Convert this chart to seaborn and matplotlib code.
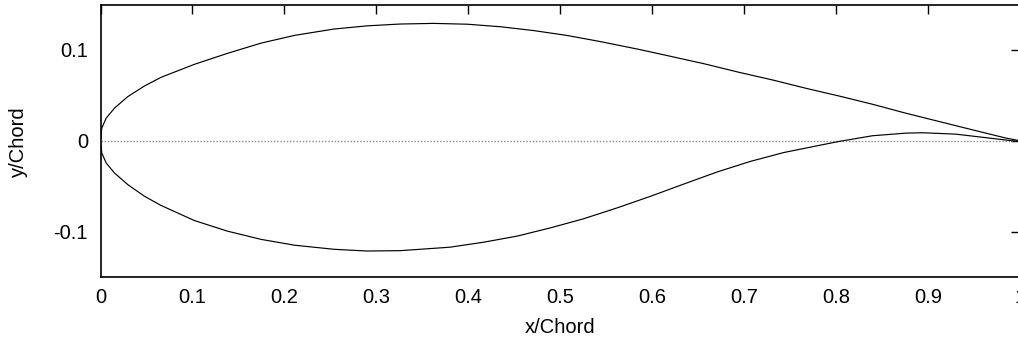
import matplotlib
matplotlib.use("Agg")
import matplotlib.pyplot as plt
import seaborn as sns
import pandas as pd

# Upper surface (x/Chord, y/Chord)
upper_x = [0.0, 0.0014, 0.0062, 0.0152, 0.0297, 0.0478, 0.066, 0.102, 0.138, 0.1747,
           0.211, 0.254, 0.29, 0.326, 0.362, 0.399, 0.435, 0.471, 0.507,
           0.5435, 0.586, 0.622, 0.658, 0.6946, 0.731, 0.767, 0.803, 0.8395, 0.876,
           0.912, 0.948, 0.9845, 1.0]
upper_y = [0.0, 0.0139, 0.0249, 0.0359, 0.0486, 0.0603, 0.0699, 0.0841, 0.0962, 0.1075,
           0.1160, 0.1230, 0.1265, 0.1285, 0.1292, 0.1283, 0.1255, 0.1213, 0.1160,
           0.1092, 0.1005, 0.0925, 0.0844, 0.0753, 0.0669, 0.0578, 0.0493, 0.0402, 0.0303,
           0.0212, 0.0121, 0.003, 0.0]

# Lower surface (x/Chord, y/Chord)
lower_x = [0.0, 0.0014, 0.0062, 0.0152, 0.0297, 0.0478, 0.066, 0.102, 0.138, 0.1747,
           0.211, 0.254, 0.29, 0.326, 0.38, 0.4167, 0.453, 0.489, 0.525,
           0.5616, 0.598, 0.634, 0.670, 0.7065, 0.743, 0.785, 0.803, 0.8395,
           0.876, 0.894, 0.930, 0.966, 1.0]
lower_y = [0.0, -0.0135, -0.0245, -0.0355, -0.0483, -0.0611, -0.0713, -0.0878, -0.0995, -0.1086,
           -0.1150, -0.1195, -0.1214, -0.1210, -0.1172, -0.1117, -0.105, -0.096, -0.086,
           -0.074, -0.0612, -0.0478, -0.0346, -0.0228, -0.0130, -0.0044, -0.0008, 0.0055,
           0.0084, 0.0088, 0.0073, 0.003, -0.001]

x_ticks = [0, 0.1, 0.2, 0.3, 0.4, 0.5, 0.6, 0.7, 0.8, 0.9, 1.0]
x_tick_labels = ["0", "0.1", "0.2", "0.3", "0.4", "0.5", "0.6", "0.7", "0.8", "0.9", "1"]
y_ticks = [-0.1, 0, 0.1]
y_tick_labels = ["-0.1", "0", "0.1"]

sns.set_style("white")
plt.rcParams["font.family"] = ["Liberation Sans", "DejaVu Sans"]
plt.rcParams["text.color"] = "black"
plt.rcParams["axes.labelcolor"] = "black"

df = pd.concat([
    pd.DataFrame({"x": upper_x, "y": upper_y, "surface": "upper"}),
    pd.DataFrame({"x": lower_x, "y": lower_y, "surface": "lower"}),
], ignore_index=True)

W, H = 1018, 340
left_px, right_px, top_px, bottom_px = 100.5, 1020.0, 4.5, 277.0
fig = plt.figure(figsize=(W / 100, H / 100), dpi=100)
ax = fig.add_axes([left_px / W, 1 - bottom_px / H,
                   (right_px - left_px) / W, (bottom_px - top_px) / H])

# zero line
ax.plot([0, 1], [0, 0], linestyle=(0, (1, 1.3)), color="#8c8c8c", linewidth=1.0, zorder=1)

sns.lineplot(data=df, x="x", y="y", units="surface", estimator=None, sort=False,
             color="black", linewidth=0.85, ax=ax, zorder=2)

ax.set_xlim(0, 1)
ax.set_ylim(-0.15, 0.15)
ax.set_xticks(x_ticks)
ax.set_xticklabels(x_tick_labels)
ax.set_yticks(y_ticks)
ax.set_yticklabels(y_tick_labels)
ax.tick_params(direction="in", length=6.5, width=1.0, top=True, right=True,
               labelsize=14.5, colors="black")
ax.tick_params(axis="x", pad=8)
ax.tick_params(axis="y", pad=9)
ax.set_xlabel("x/Chord", fontsize=14.5, color="black")
ax.set_ylabel("y/Chord", fontsize=14.5, color="black")
plot_w = right_px - left_px
plot_h = bottom_px - top_px
ax.xaxis.set_label_coords((560 - left_px) / plot_w, (bottom_px - 327.5) / plot_h)
ax.xaxis.label.set_va("center")
ax.yaxis.set_label_coords((18.5 - left_px) / plot_w, (bottom_px - 142) / plot_h)
ax.yaxis.label.set_va("center")
for s in ax.spines.values():
    s.set_visible(True)
    s.set_color("black")
    s.set_linewidth(1.2)
ax.grid(False)

fig.savefig("out.png", dpi=100)
